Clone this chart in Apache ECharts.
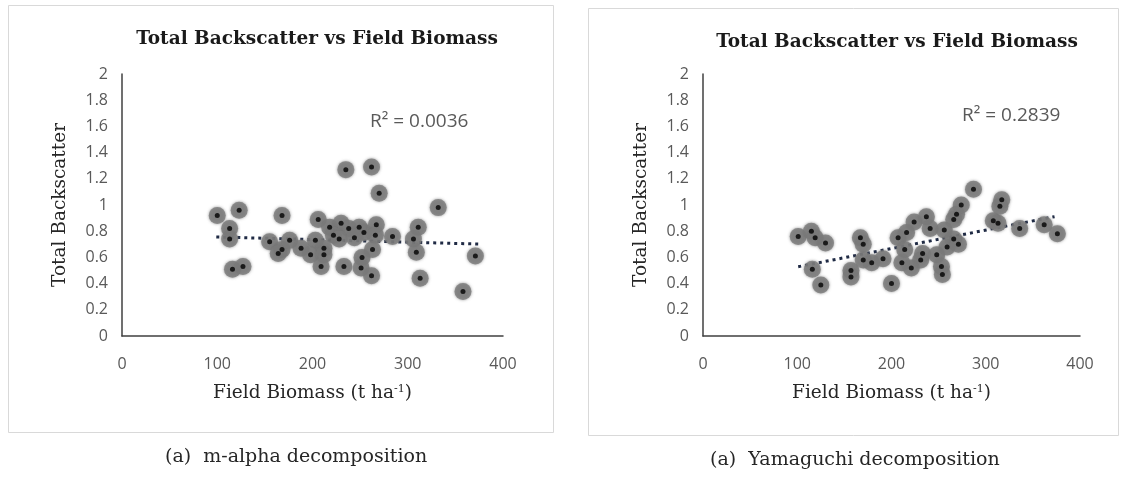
<!DOCTYPE html>
<html>
<head>
<meta charset="utf-8">
<script src="https://cdn.jsdelivr.net/npm/echarts@6/dist/echarts.min.js"></script>
<style>
  html, body { margin: 0; padding: 0; background: #fff; }
  #chart { width: 1126px; height: 477px; }
</style>
</head>
<body>
<div id="chart"></div>
<script>
// m-alpha decomposition: field biomass (t/ha) and total backscatter
const mAlphaBiomass = [100, 123, 113, 113, 116, 127, 168, 155, 168, 164, 176, 235, 262, 270, 332,
  206, 218, 230, 238, 249, 254, 267, 311, 203, 222, 228, 244, 266, 284, 306,
  188, 198, 212, 212, 209, 233, 252, 251, 263, 262, 309, 313, 371, 358];
const mAlphaBackscatter = [0.92, 0.96, 0.82, 0.74, 0.51, 0.53, 0.92, 0.72, 0.66, 0.63, 0.73, 1.27, 1.29, 1.09, 0.98,
  0.89, 0.83, 0.86, 0.82, 0.83, 0.79, 0.85, 0.83, 0.73, 0.77, 0.74, 0.75, 0.77, 0.76, 0.74,
  0.67, 0.62, 0.67, 0.62, 0.53, 0.53, 0.60, 0.52, 0.66, 0.46, 0.64, 0.44, 0.61, 0.34];

// Yamaguchi decomposition: field biomass (t/ha) and total backscatter
const yamaguchiBiomass = [101, 115, 119, 130, 116, 125, 157, 157, 167, 170, 170, 179, 191, 200,
  207, 214, 216, 211, 221, 224, 231, 233, 237, 241, 248, 253, 254, 256, 259, 266,
  266, 269, 271, 274, 287, 308, 313, 315, 317, 336, 362, 376];
const yamaguchiBackscatter = [0.76, 0.80, 0.75, 0.71, 0.51, 0.39, 0.50, 0.45, 0.75, 0.70, 0.58, 0.56, 0.59, 0.40,
  0.75, 0.66, 0.79, 0.56, 0.52, 0.87, 0.58, 0.63, 0.91, 0.82, 0.62, 0.53, 0.47, 0.81, 0.68, 0.89,
  0.74, 0.93, 0.70, 1.00, 1.12, 0.88, 0.86, 0.99, 1.04, 0.82, 0.85, 0.78];

// Linear trend lines (start / end points)
const mAlphaTrendX = [99, 374];
const mAlphaTrendY = [0.756, 0.702];
const yamaguchiTrendX = [101, 373];
const yamaguchiTrendY = [0.529, 0.911];

// Axis ticks
const xTickValues = [0, 100, 200, 300, 400];
const yTickValues = [0, 0.2, 0.4, 0.6, 0.8, 1, 1.2, 1.4, 1.6, 1.8, 2];

// Texts
const chartTitle = 'Total Backscatter vs Field Biomass';
const yAxisTitle = 'Total Backscatter';
const r2Labels = ['R² = 0.0036', 'R² = 0.2839'];
const captions = ['(a)  m-alpha decomposition', '(a)  Yamaguchi decomposition'];

const pairs = (xs, ys) => xs.map((x, i) => [x, ys[i]]);

const serif = '"DejaVu Serif", "Liberation Serif", serif';
const sans = '"Open Sans", "Noto Sans", sans-serif';
const tickColor = '#595959';
const axisColor = '#404040';

const panels = [
  { grid: { left: 122, top: 74, width: 381, height: 262 }, box: { x: 8, y: 5, w: 545, h: 427 },
    titleX: 312, titleY: 25, r2X: 370, r2Y: 112, capX: 165, capY: 448,
    points: pairs(mAlphaBiomass, mAlphaBackscatter), trend: pairs(mAlphaTrendX, mAlphaTrendY) },
  { grid: { left: 703, top: 74, width: 377, height: 262 }, box: { x: 588, y: 8, w: 530, h: 427 },
    titleX: 892, titleY: 28, r2X: 962, r2Y: 106, capX: 710, capY: 451,
    points: pairs(yamaguchiBiomass, yamaguchiBackscatter), trend: pairs(yamaguchiTrendX, yamaguchiTrendY) }
];

const xStep = xTickValues[1] - xTickValues[0];
const yStep = +(yTickValues[1] - yTickValues[0]).toFixed(2);

const option = {
  backgroundColor: '#fff',
  animation: false,
  title: panels.map((p) => ({
    text: chartTitle,
    left: p.titleX,
    top: p.titleY,
    textAlign: 'center',
    textStyle: { fontFamily: serif, fontWeight: 'bold', fontSize: 18.5, color: '#1a1a1a' }
  })),
  grid: panels.map((p) => p.grid),
  xAxis: panels.map((p, i) => ({
    type: 'value', gridIndex: i,
    min: xTickValues[0], max: xTickValues[xTickValues.length - 1], interval: xStep,
    name: 'Field Biomass (t ha{sup|-1})',
    nameLocation: 'middle', nameGap: 48,
    nameTextStyle: {
      fontFamily: serif, fontSize: 18.5, color: '#262626',
      rich: { sup: { fontFamily: serif, fontSize: 11, color: '#262626', verticalAlign: 'top', padding: [0, 0, 8, 0] } }
    },
    axisLine: { show: true, lineStyle: { color: axisColor, width: 1.5 } },
    axisTick: { show: false },
    splitLine: { show: false },
    axisLabel: { fontFamily: sans, fontSize: 16, color: tickColor, margin: 20 }
  })),
  yAxis: panels.map((p, i) => ({
    type: 'value', gridIndex: i,
    min: yTickValues[0], max: yTickValues[yTickValues.length - 1], interval: yStep,
    name: yAxisTitle,
    nameLocation: 'middle', nameGap: 52,
    nameTextStyle: { fontFamily: serif, fontSize: 18.5, color: '#262626' },
    axisLine: { show: true, lineStyle: { color: axisColor, width: 1.5 } },
    axisTick: { show: false },
    splitLine: { show: false },
    axisLabel: { fontFamily: sans, fontSize: 16, color: tickColor, margin: 14 }
  })),
  series: panels.flatMap((p, i) => [
    {
      type: 'line', xAxisIndex: i, yAxisIndex: i, data: p.trend,
      symbol: 'none', z: 1,
      lineStyle: { color: '#1f2a44', width: 3, type: [3, 4] }
    },
    {
      type: 'scatter', xAxisIndex: i, yAxisIndex: i, data: p.points,
      symbol: 'circle', symbolSize: 17, z: 2,
      itemStyle: { color: '#7b7b7b', shadowBlur: 3, shadowColor: 'rgba(110,110,110,0.9)' }
    },
    {
      type: 'scatter', xAxisIndex: i, yAxisIndex: i, data: p.points,
      symbol: 'circle', symbolSize: 5, z: 3,
      itemStyle: { color: '#000' }
    }
  ]),
  graphic: panels.flatMap((p, i) => [
    {
      type: 'rect', z: -1, silent: true,
      shape: { x: p.box.x + 0.5, y: p.box.y + 0.5, width: p.box.w, height: p.box.h },
      style: { fill: 'none', stroke: '#d9d9d9', lineWidth: 1 }
    },
    {
      type: 'text', left: p.r2X, top: p.r2Y, silent: true,
      style: { text: r2Labels[i], font: '19px ' + sans, fill: tickColor }
    },
    {
      type: 'text', left: p.capX, top: p.capY, silent: true,
      style: { text: captions[i], font: '19px ' + serif, fill: '#262626' }
    }
  ])
};

const chart = echarts.init(document.getElementById('chart'), null, { renderer: 'canvas' });
chart.setOption(option);
</script>
</body>
</html>
